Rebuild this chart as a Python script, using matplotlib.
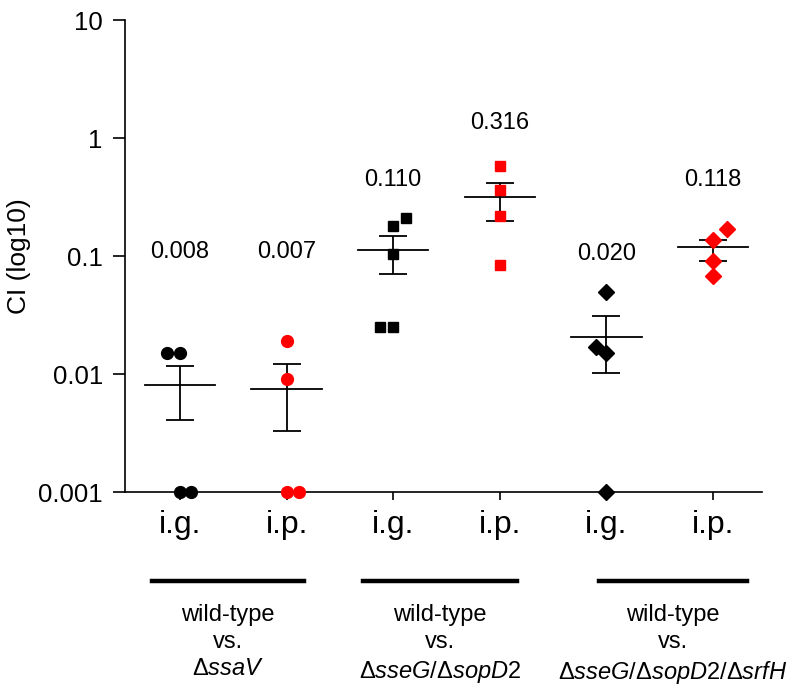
import numpy as np
import matplotlib
matplotlib.use("Agg")
import matplotlib.pyplot as plt
import matplotlib.transforms as mtransforms

plt.rcParams['font.family'] = ['Liberation Sans', 'DejaVu Sans']
plt.rcParams['mathtext.fontset'] = 'custom'
plt.rcParams['mathtext.rm'] = 'Liberation Sans'
plt.rcParams['mathtext.it'] = 'Liberation Sans:italic'

# route labels under each column
routes = ["i.g.", "i.p.", "i.g.", "i.p.", "i.g.", "i.p."]

# individual CI values per column
g1_vals = [0.015, 0.015, 0.001, 0.001]
g2_vals = [0.019, 0.009, 0.001, 0.001]
g3_vals = [0.21, 0.18, 0.104, 0.025, 0.025]
g4_vals = [0.58, 0.36, 0.22, 0.084]
g5_vals = [0.05, 0.017, 0.015, 0.001]
g6_vals = [0.168, 0.137, 0.091, 0.068]

# mean and error bar ends (mean +/- SEM)
means = [0.008, 0.0075, 0.112, 0.316, 0.0205, 0.119]
err_lo = [0.0041, 0.0033, 0.070, 0.198, 0.0102, 0.091]
err_hi = [0.0118, 0.0122, 0.148, 0.418, 0.031, 0.137]
mean_labels = ["0.008", "0.007", "0.110", "0.316", "0.020", "0.118"]

group_names = [
    "wild-type\nvs.\n" + r"$\Delta\mathit{ssaV}$",
    "wild-type\nvs.\n" + r"$\Delta\mathit{sseG/}\Delta\mathit{sopD2}$",
    "wild-type\nvs.\n" + r"$\Delta\mathit{sseG/}\Delta\mathit{sopD2/}\Delta\mathit{srfH}$",
]

# drawing styles
all_vals = [g1_vals, g2_vals, g3_vals, g4_vals, g5_vals, g6_vals]
jitter = [[-0.12, 0, 0, 0.1], [0, 0, 0, 0.12], [0.12, 0, 0, -0.12, 0],
          [0, 0, 0, 0], [0, -0.1, 0, 0], [0.13, 0, 0, 0]]
markers = ["o", "o", "s", "s", "D", "D"]
msizes = [8.5, 8.5, 7.5, 7.5, 8.5, 8.5]
colors = ["black", "red", "black", "red", "black", "red"]
label_y = [0.108, 0.108, 0.44, 1.34, 0.104, 0.44]

fig = plt.figure(figsize=(7.98, 6.90), dpi=100)
ax = fig.add_axes([125 / 798, 1 - 492 / 690, (762 - 125) / 798, (492 - 20) / 690])
ax.set_yscale("log")
ax.set_ylim(0.001, 10)
ax.set_xlim(0.484, 6.46)

xs = np.arange(1, 7)
for i, x in enumerate(xs):
    px = x + np.array(jitter[i])
    ax.plot(px, all_vals[i], linestyle="none", marker=markers[i], ms=msizes[i],
            color=colors[i], clip_on=False, zorder=4)
    ax.plot([x - 0.33, x + 0.33], [means[i], means[i]], color="black", lw=1.3, zorder=3)
    ax.errorbar(x, means[i],
                yerr=[[means[i] - err_lo[i]], [err_hi[i] - means[i]]],
                fmt="none", ecolor="black", elinewidth=1.3, capsize=10, capthick=1.3, zorder=3)
    ax.text(x, label_y[i], mean_labels[i], ha="center", va="center", fontsize=17)

ax.set_yticks([0.001, 0.01, 0.1, 1, 10])
ax.set_yticklabels(["0.001", "0.01", "0.1", "1", "10"])
ax.yaxis.set_minor_locator(matplotlib.ticker.NullLocator())
ax.tick_params(axis="y", direction="out", length=9, width=1.2, labelsize=18.5, pad=7)
ax.set_xticks(xs)
ax.set_xticklabels(routes)
ax.tick_params(axis="x", direction="out", length=6, width=1.2, labelsize=23, pad=7)
ax.set_ylabel("CI (log10)", fontsize=19)
ax.yaxis.set_label_coords(-0.148, 0.5)

for s in ["top", "right"]:
    ax.spines[s].set_visible(False)
for s in ["left", "bottom"]:
    ax.spines[s].set_linewidth(1.2)

# group bars and names below the axis
trans = mtransforms.blended_transform_factory(ax.transData, ax.transAxes)
bar_spans = [(0.737, 2.163), (2.72, 4.16), (4.93, 6.32)]
for (a, b), name in zip(bar_spans, group_names):
    ax.plot([a, b], [-0.1886, -0.1886], color="black", lw=3.2, transform=trans, clip_on=False)
    ax.text((a + b) / 2, -0.237, name, ha="center", va="top", fontsize=17,
            transform=trans, linespacing=1.3)

fig.savefig("out.png", dpi=100)
